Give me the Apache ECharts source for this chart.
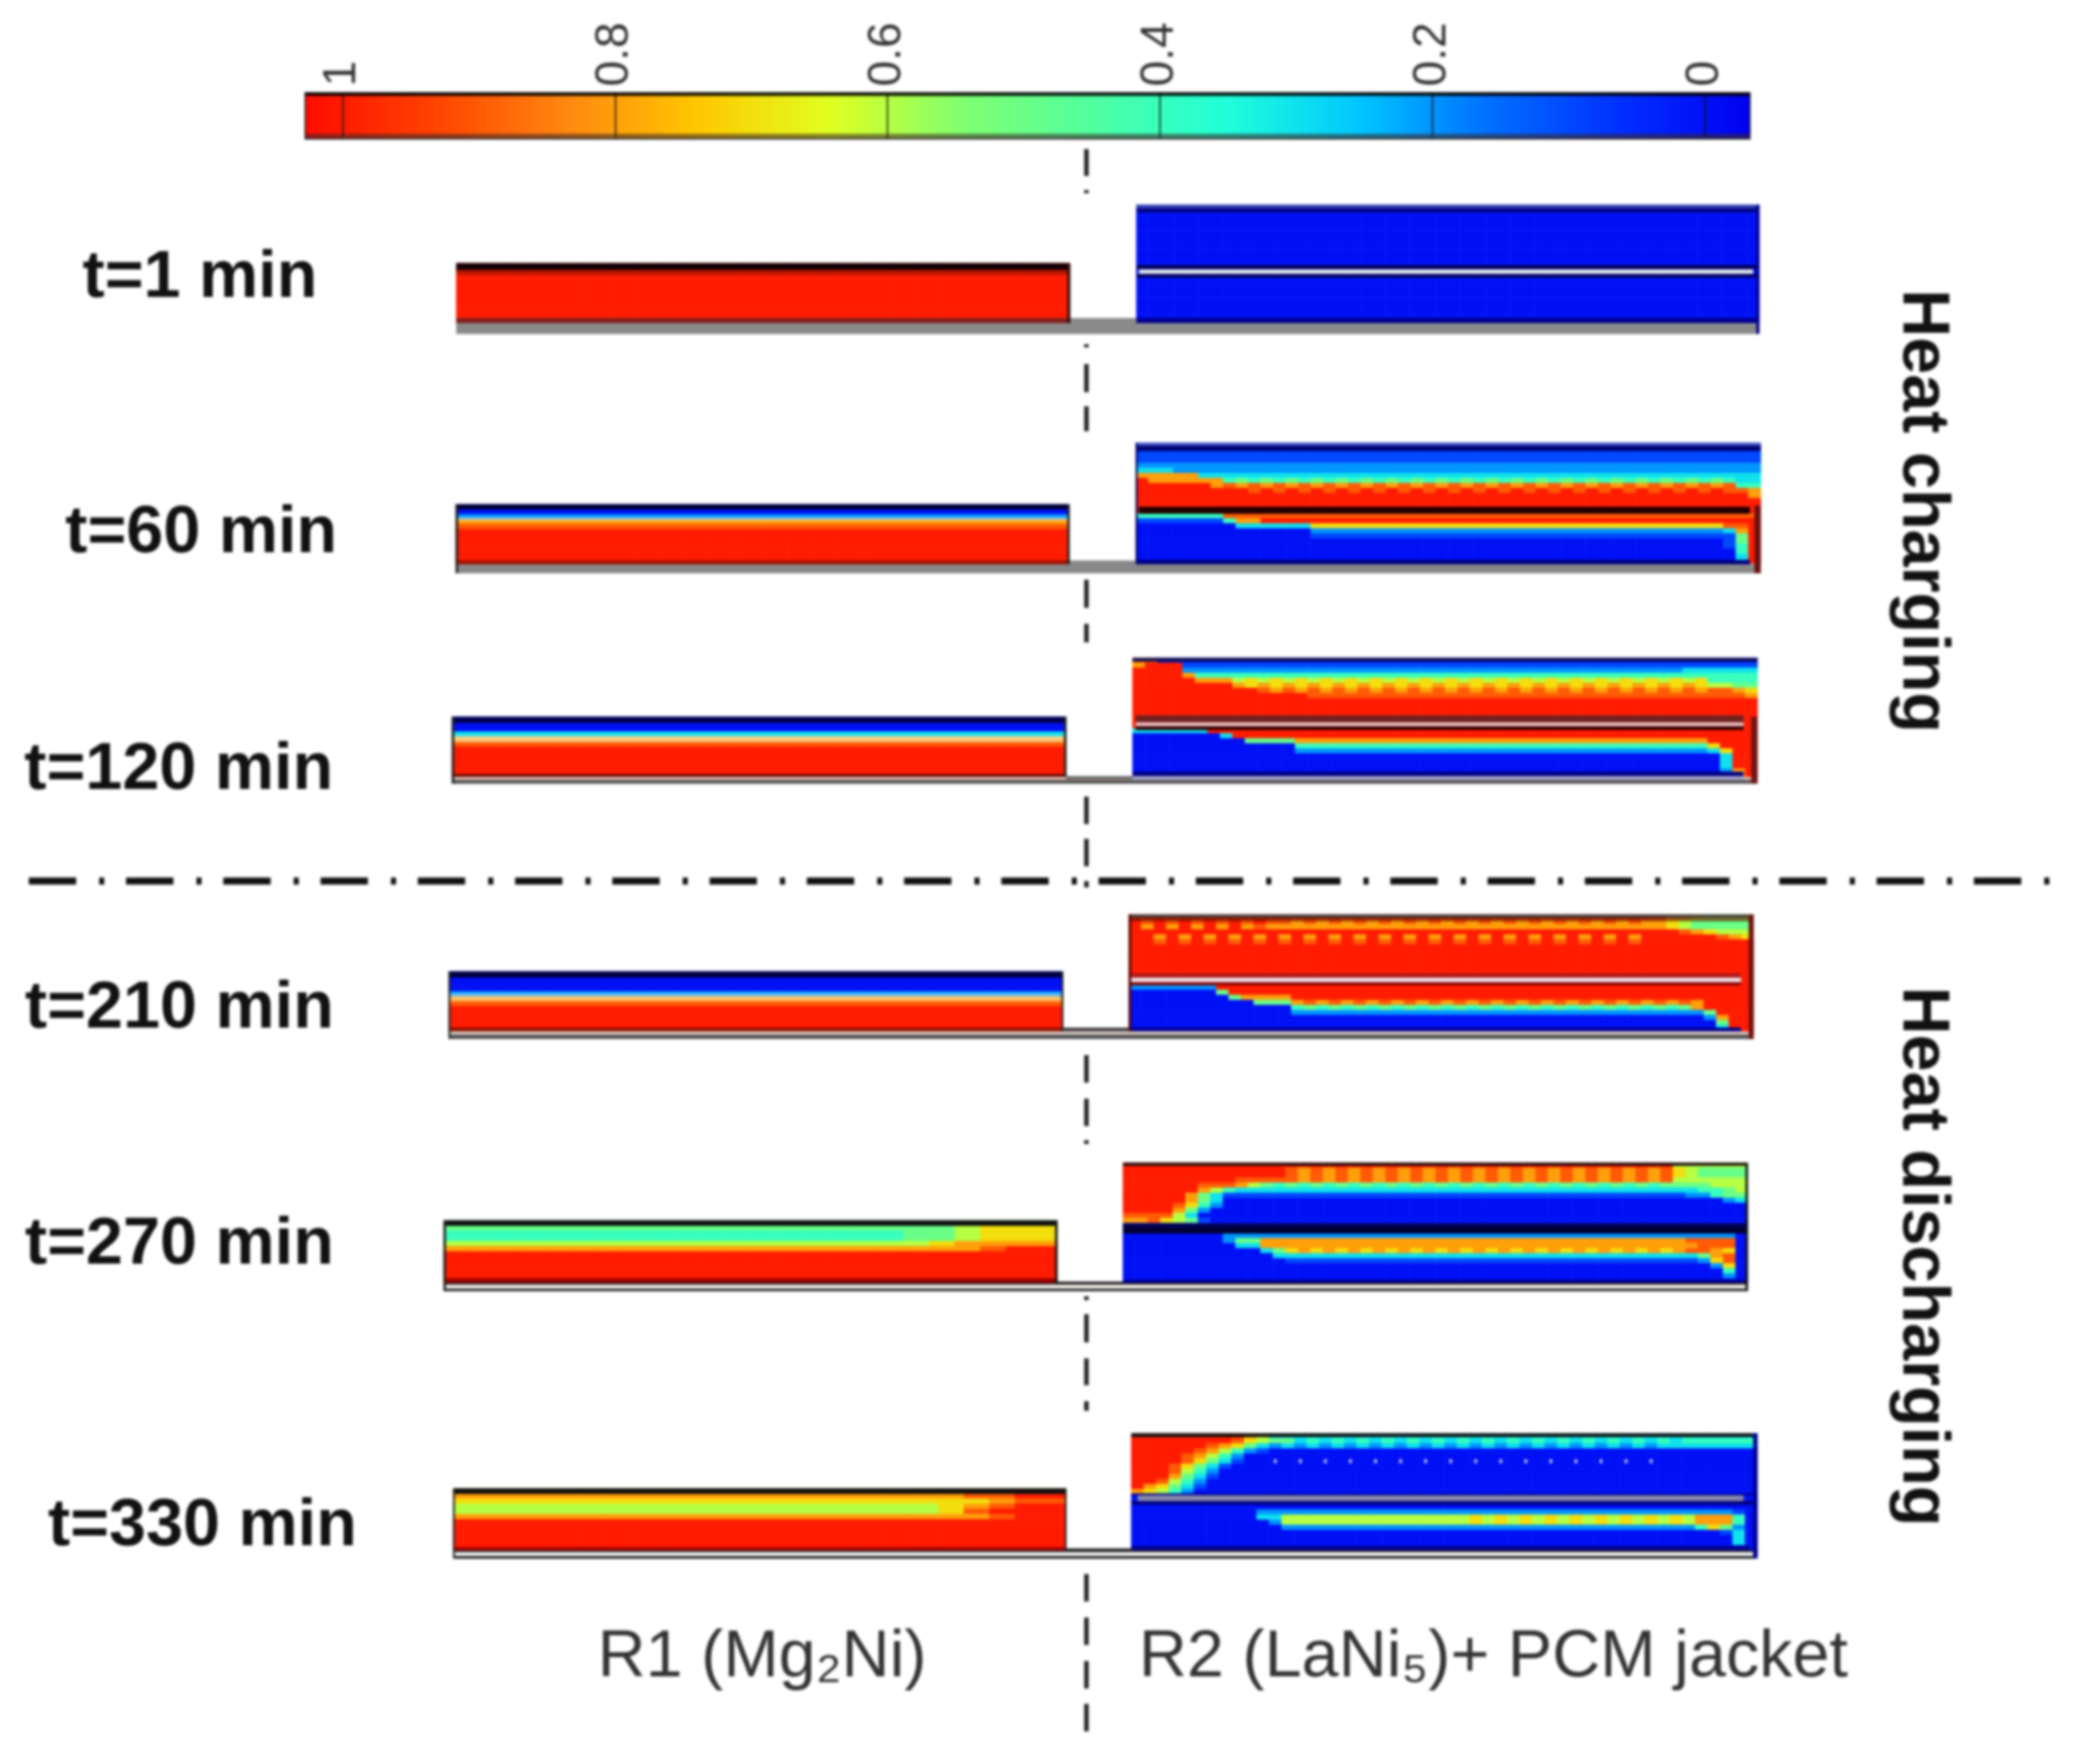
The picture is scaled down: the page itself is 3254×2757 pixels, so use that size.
<!DOCTYPE html>
<html><head><meta charset="utf-8">
<style>html,body{margin:0;padding:0;background:#fff}#c{width:3254px;height:2757px;filter:blur(2px)}</style>
<script src="https://cdn.jsdelivr.net/npm/echarts@6/dist/echarts.min.js"></script>
</head><body><div id="c"></div>
<script>
// Volume fraction, on a 0..a scale (a = 1.0). Each row is top-to-bottom,
// written as runs: "value:count", a pattern may repeat ("98:30"), the last value fills the row.
const colorbarTicks=[1,0.8,0.6,0.4,0.2,0];
const timeLabels=["t=1 min","t=60 min","t=120 min","t=210 min","t=270 min","t=330 min"];
const r1T1=["a","a","a","a","a","a","a","a","a","a","a","a"];
const r1T60=["0","0","2","8","9","a","a","a","a","a","a","a"];
const r1T120=["0","0","0","3","8","9","a","a","a","a","a","a"];
const r1T210=["0","0","0","0","2","8","9","a","a","a","a","a"];
const r1T270=["5","5:20 6 7 7 7","4:18 5:2 6 7 7 7","4:18 5:2 6 7 7 7","6:19 7 8 8 8 8","8:21 9 a a","a","a","a","a","a","a"];
const r1T330=["8","8:20 9 9 a a","7:19 7 7 8 9 9","6:19 7 8 9 a a","6:19 7 9 a a a","8:21 9 a a","a","a","a","a","a","a"];
const r2T1=["0","0","0","0","0","0","0","0","0","0","0","0","0","0","0","0","0","0","0","0","0","0","0","0"];
const r2T60=["0","1","1","1","2","3:3 2","8:5 3","a 8:6 45:41 3:2","a:6 89:42 4:2","a:8 a9:40 9 8","a:49 8","a","a","a",
"4:7 9","1:7 4 8:2 a","0:8 3:6 7:33 9 9 a","0:14 2:33 3 8 a","0:14 1:33 1 5 a","0:47 1 5 a","0:47 1 4 a","0:48 4 a","0:48 3 a","0:48 3 a"];
const r2T120=["9:2 0","8 a:3 1","a:4 2:40 3","a:4 8 4","a:5 8:3 67:38 4:4","a:8 87:38 6:2 5:2","a:10 98:36 9:2 8 7","a:14 9:32 9:3 8","a","a","a","a","a","a",
"3:6 a","0:7 3 a","0:9 5:4 8:33 a:4","0:13 4:33 7 a:3","0:13 2:33 3 7 a:2","0:47 3 a:2","0:47 3 a:2","0:47 3 a:2","0:47 2 8 a","0:47 2 8 a"];
const r2T210=["a:43 8:2 7 6:4","a9:12 98:30 8 7 6 5:5","a8:10 9 8:31 8 7 6 5:5","a:44 9 8 7 6:3","a:2 8a:40 a:5 9 8 7","a:2 9a:40 a","a","a","a","a","a","a","a","a",
"2:7 a","0:7 5 a","0:8 5 8:4 a","0:10 5:3 89:33 a:4","0:13 45:32 8 a:4","0:13 2:33 5 a:3","0:46 2 8 a:2","0:47 5 a:2","0:47 3 a:2","0:48 2 a"];
const r2T270=["a:44 6","a:13 98:31 7 6 5:4","a:13 98:31 7 6 5:4","a:9 9:4 98:31 6","a:6 9:3 8 6 54:33 5:3 6:3","a:6 8 6 4 3:37 4:2 5 6","a:5 8 5 3 1:37 2:2 4 5:2","a:5 8 5 3 0:40 2 3","a:4 9 7 4 2 0","a:4 8 5 2 0","9:3 9 6 3 0","8:2 9 7 6 5 1 0","0","0",
"0:8 2:41 0","0:8 2 5:2 8:34 9:4 0","0:9 3:2 8:35 9:3 0","0:11 3 5 78:32 9:2 8 7 0","0:12 3:34 5 8 9 0","0:13 1:33 2 7 9 0","0:47 2 7 0","0:48 4 0","0:48 2 0","0"];
const r2T330=["a:9 8 6 3","a:8 9 7 6 5:2 34:31 4:6","a:6 9 8 7 5 32:33 3","a:5 9 8 6 4 2 1 0","a:4 9 8 6 4 2 0","a:4 9 7 5 3 1 0","a:3 9 7 5 3 1 0","a:3 9 6 4 2 0","a:3 8 5 3 1 0","a:2 9 6 4 2 0","a 8 7 5 3 1 0","8 7 6 4 2 0","0","0",
"0","0:10 2:38 1 0","0:10 3:2 6:14 67:19 8:3 4 0","0:11 2 6:14 67:19 8:3 4 0","0:12 2:33 4 7 5 2 0","0:47 1 3 0","0:48 3 0","0:48 3 0","0","0"];
const t330DotColumns=[11,13,15,17,19,21,23,25,27,29,31,33,35,37,39,41];
const t330DotRow=5;

// Layout (page pixels)
const R1COLS=24,R2COLS=50;
const panels=[
 {r1:r1T1,  r1Box:[713,411,1671,505],  r2:r2T1,  r2Box:[1776,320,2750,505]},
 {r1:r1T60, r1Box:[712,788,1671,882],  r2:r2T60, r2Box:[1775,692,2752,881]},
 {r1:r1T120,r1Box:[706,1120,1666,1214],r2:r2T120,r2Box:[1770,1028,2747,1217]},
 {r1:r1T210,r1Box:[701,1518,1661,1612],r2:r2T210,r2Box:[1764,1429,2741,1618]},
 {r1:r1T270,r1Box:[693,1907,1652,2005],r2:r2T270,r2Box:[1755,1817,2732,2006]},
 {r1:r1T330,r1Box:[708,2326,1666,2423],r2:r2T330,r2Box:[1768,2240,2747,2431]}
];
const walls=[
 [477,145,2735,150,'rgba(0,0,0,.85)'],[477,209,2735,217,'rgba(60,40,40,.55)'],
 [713,411,1671,422,'#150005'],[713,422,1671,430,'rgba(120,20,0,.5)'],[713,497,1671,505,'#802020'],[1671,497,1776,522,'#8a8a8a'],[713,505,2750,522,'#8a8a8a'],[1668,411,1673,505,'#301010'],
 [1776,320,2750,326,'#3040b0'],[1776,326,2750,332,'#000080'],[1776,414,2750,421,'#000060'],[1780,421,2740,428,'#e0e6f4'],[1776,428,2750,434,'#000060'],[1776,497,2750,505,'#000090'],[2745,320,2750,522,'#000090'],
 [712,808,1668,814,'rgba(255,255,255,.35)'],[712,788,1671,796,'#000030'],[712,876,1671,882,'#a01000'],[712,882,2752,896,'#888888'],[1671,876,1775,896,'#888888'],[712,788,716,896,'#222222'],[1668,788,1672,882,'#222222'],
 [1775,692,2752,697,'#4050c0'],[1775,697,2752,705,'#000070'],[1780,792,2735,803,'#200000'],[1775,692,1778,882,'#000060'],[1775,875,2735,882,'#000080'],[2742,790,2752,896,'#6a1010'],
 [706,1150,1662,1160,'rgba(255,255,255,.45)'],[706,1120,1666,1130,'#000050'],[706,1210,1666,1214,'#550000'],[706,1214,2747,1219,'#e0b8a8'],[706,1219,2747,1225,'#555555'],[1666,1213,1770,1218,'#666666'],[706,1120,710,1225,'#222222'],[1663,1120,1667,1214,'#222222'],
 [1770,1028,2747,1034,'#101050'],[1775,1118,2725,1129,'#702020'],[1775,1129,2725,1135,'#f0c0c0'],[1775,1135,2725,1141,'#300000'],[1770,1206,2725,1213,'#000080'],[1770,1213,2725,1219,'#a8a8d0'],[1770,1219,2725,1225,'#555555'],[2737,1120,2747,1225,'#701515'],
 [701,1552,1658,1565,'rgba(255,255,255,.35)'],[701,1518,1661,1528,'#000040'],[701,1606,1661,1612,'#901000'],[701,1612,2741,1617,'#d8c8c0'],[701,1617,2741,1624,'#555555'],[1661,1606,1764,1612,'#444444'],[701,1518,704,1624,'#222222'],[1659,1518,1662,1612,'#222222'],
 [1764,1429,2741,1434,'#444444'],[1764,1434,2741,1440,'rgba(90,10,0,.6)'],[1768,1521,2721,1528,'#b01818'],[1768,1528,2721,1535,'#f0e0e8'],[1764,1535,2721,1540,'#880000'],[1764,1606,2721,1612,'#000090'],[2733,1429,2741,1624,'#701010'],[1764,1429,1768,1612,'#550000'],
 [693,1907,1652,1916,'#111111'],[693,1998,1652,2005,'#990000'],[693,2005,2732,2008,'#333333'],[693,2008,2732,2014,'#f4f0e8'],[693,2014,2732,2018,'#222222'],[1652,2003,1755,2006,'#222222'],[693,1907,697,2018,'#222222'],[1649,1907,1653,2005,'#111111'],
 [1755,1817,2732,1822,'#201010'],[1755,1912,2732,1920,'#000050'],[1755,1920,2732,1928,'#000030'],[1755,2000,2732,2005,'#000090'],[2728,1817,2732,2018,'#111111'],
 [708,2326,1666,2335,'#111111'],[708,2418,1666,2423,'#aa0000'],[708,2423,2747,2426,'#333333'],[708,2426,2747,2432,'#f4f4f4'],[708,2432,2747,2436,'#111111'],[1666,2420,1768,2423,'#222222'],[708,2326,711,2436,'#222222'],[1664,2326,1667,2423,'#222222'],
 [1768,2240,2747,2246,'#111111'],[1768,2334,2747,2337,'#000090'],[1778,2337,2725,2346,'#8888aa'],[1768,2346,2747,2352,'#000080'],[1768,2416,2735,2423,'#000090'],[2740,2240,2747,2436,'#000090']
];
const vSegs=[[233,275],[297,302],[538,543],[569,613],[635,674],[906,950],[975,1004],[1245,1288],[1311,1354],[1377,1387],[1649,1692],[1717,1760],[1782,1788],[2026,2032],[2054,2098],[2123,2165],[2190,2205],[2460,2503],[2528,2571],[2596,2639],[2663,2706]];
const labelPos=[[129,466],[102,865],[38,1235],[39,1608],[39,1977],[75,2417]];

function expand(rows,cols){
  const out=[];
  rows.forEach((row,r)=>{
    let s='';
    row.split(' ').forEach(tok=>{
      const [pat,n]=tok.split(':');
      const len=n?+n:pat.length;
      for(let i=0;i<len;i++)s+=pat[i%pat.length];
    });
    while(s.length<cols)s+=s[s.length-1];
    for(let c=0;c<cols;c++){const ch=s[c];out.push([c,r,ch==='a'?1:(+ch)/10]);}
  });
  return out;
}
const idx=n=>Array.from({length:n},(_,i)=>i);
const grids=[],xAxes=[],yAxes=[],series=[],heatIdx=[];
function addHeat(rows,cols,box,name){
  const g=grids.length;
  grids.push({left:box[0],top:box[1],width:box[2]-box[0],height:box[3]-box[1],containLabel:false,show:false});
  xAxes.push({gridIndex:g,type:'category',data:idx(cols),show:false});
  yAxes.push({gridIndex:g,type:'category',data:idx(rows.length),inverse:true,show:false});
  heatIdx.push(series.length);
  series.push({name,type:'heatmap',xAxisIndex:g,yAxisIndex:g,data:expand(rows,cols),progressive:0,itemStyle:{borderWidth:0},emphasis:{disabled:true}});
  return g;
}
panels.forEach((p,i)=>{
  addHeat(p.r1,R1COLS,p.r1Box,'R1 '+timeLabels[i]);
  const g=addHeat(p.r2,R2COLS,p.r2Box,'R2 '+timeLabels[i]);
  if(i===5) series.push({type:'scatter',xAxisIndex:g,yAxisIndex:g,symbol:'rect',symbolSize:[4,6],z:30,itemStyle:{color:'#fff',opacity:.85},
     data:t330DotColumns.map(c=>[c,t330DotRow]),silent:true});
});
// colour bar axis
const gb=grids.length;
grids.push({left:477,top:145,width:2258,height:72,show:true,borderColor:'#111',borderWidth:2,backgroundColor:'transparent',z:6});
xAxes.push({gridIndex:gb,type:'value',min:-0.033,max:1.0275,inverse:true,position:'top',z:10,splitLine:{show:false},axisLine:{show:false,onZero:false},
  axisTick:{show:true,inside:true,length:72,lineStyle:{color:'#111',width:2},customValues:colorbarTicks},
  axisLabel:{show:true,rotate:-90,margin:10,fontFamily:'Liberation Sans',fontSize:72,color:'#333',customValues:colorbarTicks,formatter:v=>String(v)}});
yAxes.push({gridIndex:gb,type:'value',min:0,max:1,show:false});
series.push({type:'line',xAxisIndex:gb,yAxisIndex:gb,data:[],silent:true});

const el=[];
walls.forEach(w=>el.push({type:'rect',z:20,silent:true,shape:{x:w[0],y:w[1],width:w[2]-w[0],height:w[3]-w[1]},style:{fill:w[4]}}));
vSegs.forEach(s=>el.push({type:'line',z:21,silent:true,shape:{x1:1698,y1:s[0],x2:1698,y2:s[1]},style:{stroke:'#222',lineWidth:7}}));
el.push({type:'line',z:21,silent:true,shape:{x1:45,y1:1377,x2:3222,y2:1377},style:{stroke:'#111',lineWidth:11,lineDash:[74,36,8,34]}});
const bold='bold 104px "Liberation Sans"',reg='104px "Liberation Sans"';
timeLabels.forEach((t,i)=>el.push({type:'text',z:22,silent:true,x:labelPos[i][0],y:labelPos[i][1]-31,style:{text:t,font:bold,fill:'#111',align:'left',verticalAlign:'middle'}}));
el.push({type:'text',z:22,silent:true,x:3004,y:452,rotation:-Math.PI/2,style:{text:'Heat charging',font:'bold 104px "Liberation Sans"',fill:'#111',align:'left',verticalAlign:'middle'}});
el.push({type:'text',z:22,silent:true,x:3004,y:1542,rotation:-Math.PI/2,style:{text:'Heat discharging',font:'bold 104px "Liberation Sans"',fill:'#111',align:'left',verticalAlign:'middle'}});
el.push({type:'text',z:22,silent:true,x:934,y:2591,style:{text:'R1 (Mg\u2082Ni)',font:reg,fill:'#333',align:'left',verticalAlign:'middle'}});
el.push({type:'text',z:22,silent:true,x:1780,y:2591,style:{text:'R2 (LaNi\u2085)+ PCM jacket',font:reg,fill:'#333',align:'left',verticalAlign:'middle'}});

const chart=echarts.init(document.getElementById('c'),null,{renderer:'canvas',width:3254,height:2757});
chart.setOption({animation:false,backgroundColor:'#fff',grid:grids,xAxis:xAxes,yAxis:yAxes,series,
  visualMap:{type:'continuous',show:true,seriesIndex:heatIdx,dimension:2,min:-0.033,max:1.0275,orient:'horizontal',inverse:true,left:477,top:145,itemWidth:72,itemHeight:2258,text:null,calculable:false,realtime:false,hoverLink:false,padding:0,
    inRange:{color:['#0000f0','#0030ff','#0070ff','#00c8ff','#20ffd8','#50ffa0','#80ff70','#e0ff20','#ffc800','#ff8810','#ff4400','#ff0c00']}},
  graphic:{elements:el}});
</script></body></html>
